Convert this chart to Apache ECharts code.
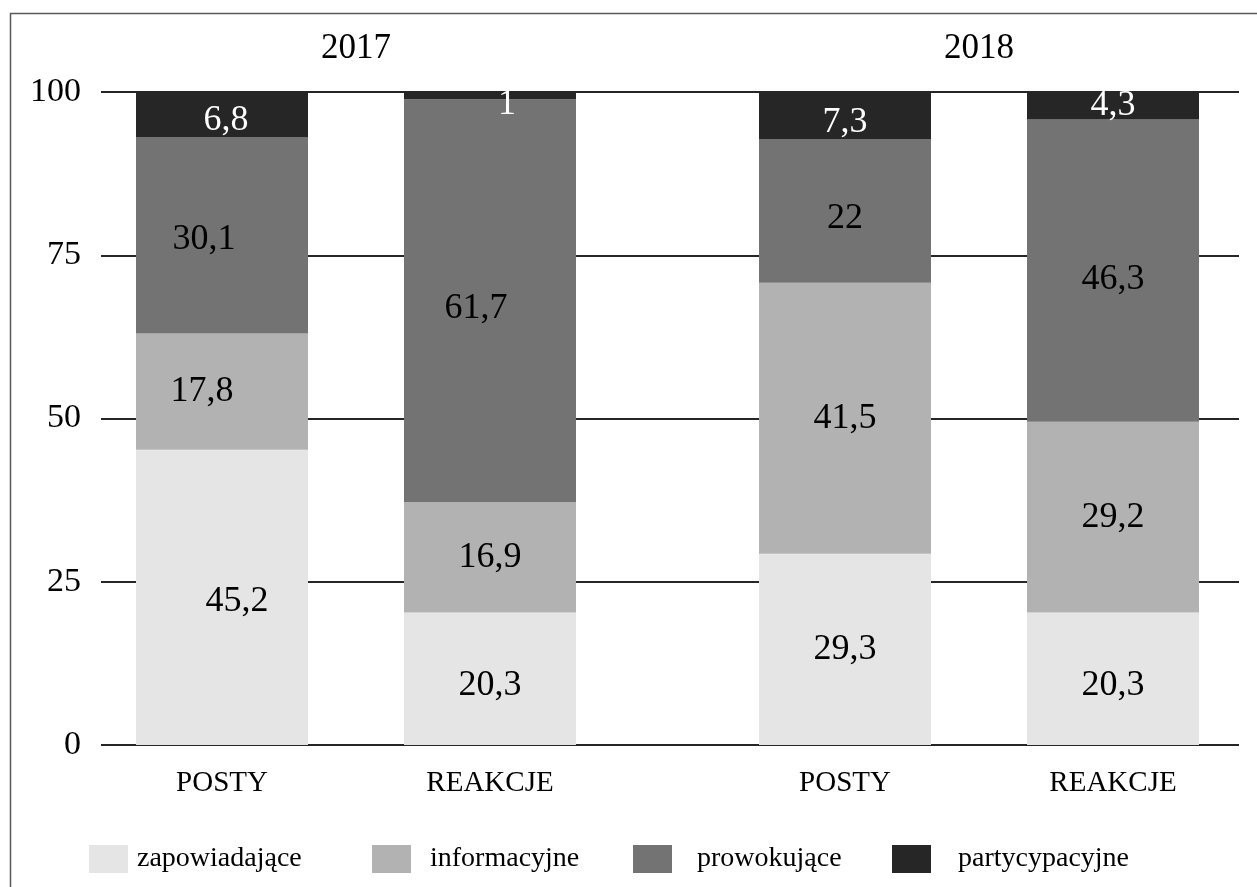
<!DOCTYPE html>
<html>
<head>
<meta charset="utf-8">
<title>Posty i reakcje 2017–2018</title>
<script src="https://cdn.jsdelivr.net/npm/echarts@6/dist/echarts.min.js"></script>
<style>
  html, body { margin: 0; padding: 0; background: #fff; }
  #chart { width: 1257px; height: 887px; }
</style>
</head>
<body>
<div id="chart"></div>
<script>
// Category labels under the bars and the year headings above each pair
const categories = ['POSTY', 'REAKCJE', 'POSTY', 'REAKCJE'];
const years = ['2017', '2018'];
const yTicks = [0, 25, 50, 75, 100];

// Shares (%) per post type, in category order
const zapowiadajace = [45.2, 20.3, 29.3, 20.3];
const informacyjne = [17.8, 16.9, 41.5, 29.2];
const prowokujace = [30.1, 61.7, 22, 46.3];
const partycypacyjne = [6.8, 1, 7.3, 4.3];

const seriesDefs = [
  { name: 'zapowiadające', values: zapowiadajace, color: '#e5e5e5', text: '#000' },
  { name: 'informacyjne', values: informacyjne, color: '#b2b2b2', text: '#000' },
  { name: 'prowokujące', values: prowokujace, color: '#737373', text: '#000' },
  { name: 'partycypacyjne', values: partycypacyjne, color: '#262626', text: '#fff' }
];

// Hand-nudged label placements (series index, category index) -> [dx, dy]
const labelNudge = {
  '0-0': [15, 4], '0-1': [0, 7], '0-3': [0, 7],
  '1-0': [-20, 0],
  '2-0': [-18, 4], '2-1': [-14, 8], '2-2': [0, 8], '2-3': [0, 9],
  '3-0': [4, 6], '3-1': [17, 9], '3-2': [0, 7]
};

const FONT = '"Liberation Serif", "Times New Roman", serif';
const chart = echarts.init(document.getElementById('chart'), null, { renderer: 'canvas' });

const plotTop = 92, plotBottom = 142;

// One grid for the value scale and gridlines, one grid per year for the bars
const grids = [
  { left: 101, right: 18, top: plotTop, bottom: plotBottom },
  { left: 88, width: 536, top: plotTop, bottom: plotBottom },
  { left: 711, width: 536, top: plotTop, bottom: plotBottom }
];

const catAxis = (gridIndex, data) => ({
  gridIndex, type: 'category', data,
  axisLine: { show: false }, axisTick: { show: false },
  axisLabel: { fontFamily: FONT, fontSize: 29, color: '#000', margin: 24 }
});
const yearAxis = (gridIndex, year) => ({
  gridIndex, type: 'category', position: 'top', data: [year],
  axisLine: { show: false }, axisTick: { show: false },
  axisLabel: { fontFamily: FONT, fontSize: 35, color: '#000', margin: 26 }
});

const xAxes = [
  { gridIndex: 0, type: 'category', data: [''], show: false },
  catAxis(1, categories.slice(0, 2)),
  catAxis(2, categories.slice(2, 4)),
  yearAxis(1, years[0]),
  yearAxis(2, years[1])
];

const yAxes = [
  {
    gridIndex: 0, type: 'value', min: yTicks[0], max: yTicks[yTicks.length - 1], interval: 25,
    axisLine: { show: false }, axisTick: { show: false },
    axisLabel: { fontFamily: FONT, fontSize: 34, color: '#000', margin: 20 },
    splitLine: { lineStyle: { color: '#262626', width: 2 } }
  },
  { gridIndex: 1, type: 'value', min: 0, max: 100, show: false },
  { gridIndex: 2, type: 'value', min: 0, max: 100, show: false }
];

const series = [];
[1, 2].forEach((g, gi) => {
  seriesDefs.forEach((def, si) => {
    const values = def.values.slice(gi * 2, gi * 2 + 2);
    series.push({
      name: def.name,
      type: 'bar',
      stack: 'year' + g,
      xAxisIndex: g,
      yAxisIndex: g,
      barWidth: 172,
      itemStyle: { color: def.color },
      label: {
        show: true,
        position: 'inside',
        fontFamily: FONT,
        fontSize: 36,
        color: def.text,
        formatter: p => String(p.value).replace('.', ',')
      },
      data: values.map((v, k) => {
        const nudge = labelNudge[si + '-' + (gi * 2 + k)];
        return nudge ? { value: v, label: { offset: nudge } } : v;
      })
    });
  });
});

// Legend entries laid out one by one along the bottom
const legendLeft = [89, 372, 633, 892];
const legendTextGap = [4, 14, 20, 22];
const legends = seriesDefs.map((def, i) => ({
  data: [def.name],
  left: legendLeft[i],
  top: 845,
  padding: 0,
  itemWidth: 39,
  itemHeight: 28,
  icon: 'rect',
  selectedMode: false,
  textStyle: {
    fontFamily: FONT, fontSize: 28, color: '#000',
    padding: [0, 0, 0, legendTextGap[i]]
  }
}));

chart.setOption({
  animation: false,
  backgroundColor: '#fff',
  graphic: [{
    type: 'rect',
    silent: true,
    z: -1,
    shape: { x: 10.5, y: 13.5, width: 1400, height: 1000 },
    style: { fill: 'none', stroke: '#5a5a5a', lineWidth: 1.5 }
  }],
  grid: grids,
  xAxis: xAxes,
  yAxis: yAxes,
  legend: legends,
  series
});
</script>
</body>
</html>
